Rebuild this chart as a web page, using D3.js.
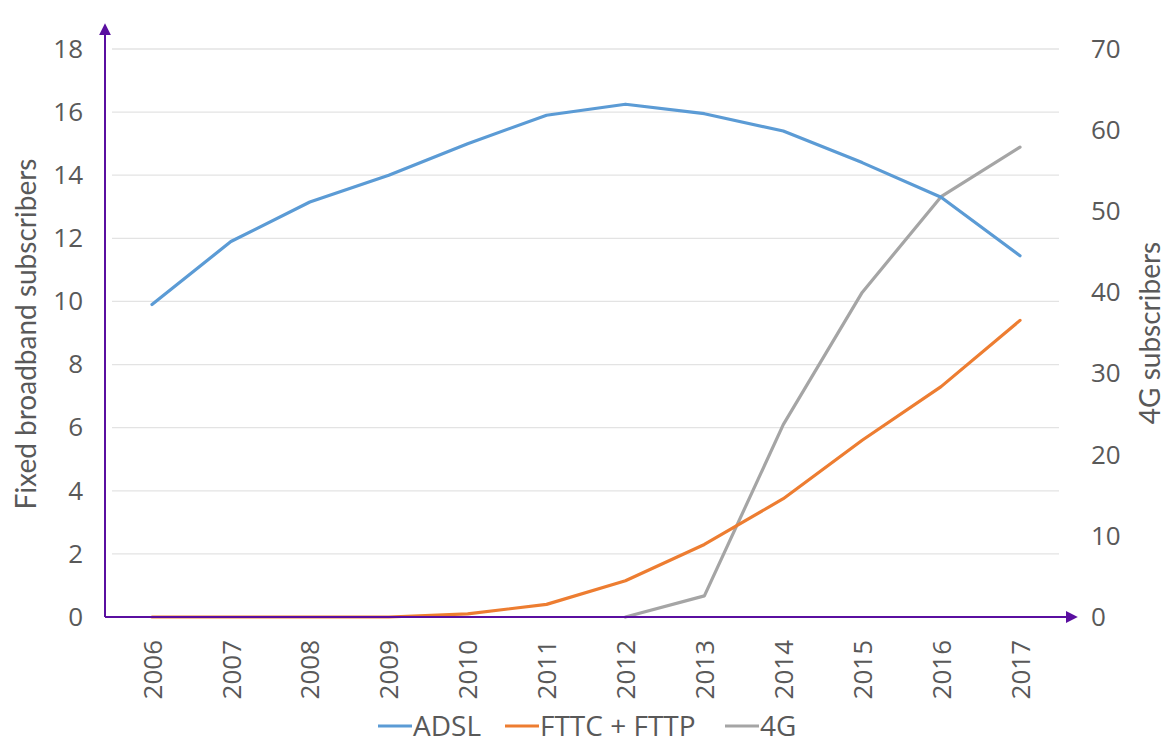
<!DOCTYPE html>
<html>
<head>
<meta charset="utf-8">
<script src="https://cdn.jsdelivr.net/npm/d3@7"></script>
<style>
  html, body { margin: 0; padding: 0; background: #fff; }
  svg { display: block; }
</style>
</head>
<body>
<svg id="chart" width="1167" height="747"></svg>
<script>
// Subscribers by year (millions), fixed lines on the left axis, 4G on the right axis
const years = ["2006","2007","2008","2009","2010","2011","2012","2013","2014","2015","2016","2017"];
const adsl = [9.9, 11.9, 13.15, 14.0, 15.0, 15.9, 16.25, 15.95, 15.4, 14.4, 13.3, 11.45];
const fttx = [0, 0, 0, 0, 0.1, 0.4, 1.15, 2.3, 3.75, 5.6, 7.3, 9.4];
const fourG = [null, null, null, null, null, null, 0, 2.6, 23.7, 40.0, 51.8, 57.9];
const leftTicks = [0, 2, 4, 6, 8, 10, 12, 14, 16, 18];
const rightTicks = [0, 10, 20, 30, 40, 50, 60, 70];

const svg = d3.select("#chart");
const axisColor = "#5a0fa0";
const textColor = "#595959";
const tickFont = "Open Sans, sans-serif";

const x = d3.scalePoint().domain(years).range([152, 1020]);
const yL = d3.scaleLinear().domain([0, 18]).range([617, 49]);
const yR = d3.scaleLinear().domain([0, 70]).range([617, 49]);

// arrow marker for the axes
svg.append("defs").append("marker")
  .attr("id", "arrow")
  .attr("viewBox", "0 0 10 10")
  .attr("refX", 1).attr("refY", 5)
  .attr("markerWidth", 6).attr("markerHeight", 6)
  .attr("markerUnits", "strokeWidth")
  .attr("orient", "auto")
  .append("path").attr("d", "M0,0 L10,5 L0,10 Z").attr("fill", axisColor);

// horizontal gridlines
svg.append("g").selectAll("line").data(leftTicks.filter(d => d > 0)).join("line")
  .attr("x1", 112).attr("x2", 1059)
  .attr("y1", d => yL(d)).attr("y2", d => yL(d))
  .attr("stroke", "#e3e3e3").attr("stroke-width", 1.3);

// left axis labels
const leftAxis = d3.axisLeft(yL).tickValues(leftTicks).tickSize(0).tickPadding(0);
const gL = svg.append("g").attr("transform", "translate(83,0)").call(leftAxis);
gL.select(".domain").remove();
gL.selectAll("text").attr("font-family", tickFont).attr("font-size", 26).attr("fill", textColor);

// right axis labels
const rightAxis = d3.axisRight(yR).tickValues(rightTicks).tickSize(0).tickPadding(0);
const gR = svg.append("g").attr("transform", "translate(1091,0)").call(rightAxis);
gR.select(".domain").remove();
gR.selectAll("text").attr("font-family", tickFont).attr("font-size", 26).attr("fill", textColor);

// bottom axis labels, rotated
const bottomAxis = d3.axisBottom(x).tickSize(0).tickPadding(0);
const gB = svg.append("g").attr("transform", "translate(0,640)").call(bottomAxis);
gB.select(".domain").remove();
gB.selectAll("text")
  .attr("font-family", tickFont).attr("font-size", 26).attr("fill", textColor)
  .attr("transform", "rotate(-90)")
  .attr("text-anchor", "end")
  .attr("dx", 0).attr("dy", "0.35em").attr("x", 0).attr("y", 0);

// axis titles
svg.append("text")
  .attr("transform", "translate(36,334) rotate(-90)")
  .attr("text-anchor", "middle")
  .attr("font-family", "Lato, sans-serif").attr("font-size", 28).attr("fill", textColor)
  .text("Fixed broadband subscribers");
svg.append("text")
  .attr("transform", "translate(1160,333) rotate(-90)")
  .attr("text-anchor", "middle")
  .attr("font-family", "Lato, sans-serif").attr("font-size", 28).attr("fill", textColor)
  .text("4G subscribers");

// series lines
const lineL = d3.line().defined(d => d.v !== null).x(d => x(d.year)).y(d => yL(d.v));
const lineR = d3.line().defined(d => d.v !== null).x(d => x(d.year)).y(d => yR(d.v));
const series = [
  { name: "ADSL", values: adsl, color: "#5b9bd5", line: lineL },
  { name: "FTTC + FTTP", values: fttx, color: "#ed7d31", line: lineL },
  { name: "4G", values: fourG, color: "#a5a5a5", line: lineR }
];
series.slice().reverse().forEach(s => {
  svg.append("path")
    .datum(years.map((yr, i) => ({ year: yr, v: s.values[i] })))
    .attr("fill", "none")
    .attr("stroke", s.color)
    .attr("stroke-width", 3.2)
    .attr("stroke-linejoin", "round")
    .attr("stroke-linecap", "round")
    .attr("d", s.line);
});

// axes with arrowheads
svg.append("line")
  .attr("x1", 105).attr("y1", 617).attr("x2", 105).attr("y2", 34)
  .attr("stroke", axisColor).attr("stroke-width", 2).attr("marker-end", "url(#arrow)");
svg.append("line")
  .attr("x1", 105).attr("y1", 617).attr("x2", 1067).attr("y2", 617)
  .attr("stroke", axisColor).attr("stroke-width", 2).attr("marker-end", "url(#arrow)");

// legend
const legendItems = [
  { name: "ADSL", color: "#5b9bd5", x: 378 },
  { name: "FTTC + FTTP", color: "#ed7d31", x: 505 },
  { name: "4G", color: "#a5a5a5", x: 725 }
];
const lg = svg.append("g");
legendItems.forEach(d => {
  lg.append("line")
    .attr("x1", d.x).attr("x2", d.x + 34).attr("y1", 726).attr("y2", 726)
    .attr("stroke", d.color).attr("stroke-width", 3);
  lg.append("text")
    .attr("x", d.x + 35).attr("y", 736)
    .attr("font-family", tickFont).attr("font-size", 28).attr("fill", textColor)
    .text(d.name);
});
</script>
</body>
</html>
